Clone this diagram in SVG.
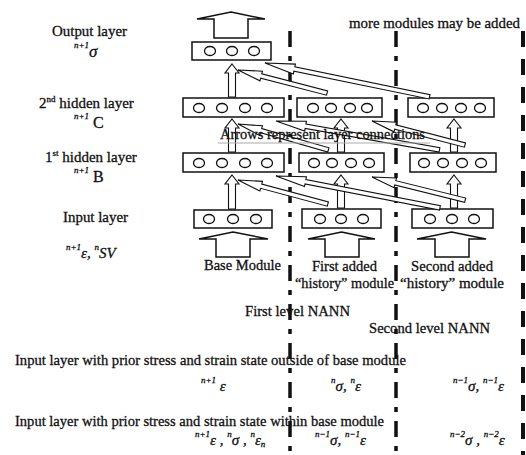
<svg xmlns="http://www.w3.org/2000/svg" width="526" height="455" viewBox="0 0 526 455">
<style>
text{font-family:"Liberation Serif","Times New Roman",serif;fill:#111;stroke:#111;stroke-width:0.3;}
.lbl{font-size:15px;}
.it{font-style:italic;}
.sup{font-size:9px;}
.box{fill:#fff;stroke:#111;stroke-width:1.5;}
.neu{fill:none;stroke:#111;stroke-width:1.3;}
.arr{fill:#fff;stroke:#111;stroke-width:1.1;stroke-linejoin:miter;}
.big{fill:#fff;stroke:#111;stroke-width:1.5;}
.dash1{stroke:#111;stroke-width:3.5;stroke-dasharray:16 9 5 9;fill:none;}
.dash2{stroke:#111;stroke-width:4;stroke-dasharray:16 12;fill:none;}
</style>
<rect width="526" height="455" fill="#fff"/>

<!-- left labels -->
<g id="labels-left">
<text class="lbl" x="52" y="36" textLength="75" lengthAdjust="spacingAndGlyphs">Output layer</text>
<text x="74" y="57"><tspan class="sup it" dy="-9">n+1</tspan><tspan class="it" font-size="17" dy="9">σ</tspan></text>
<text class="lbl" x="39" y="108">2<tspan font-size="9" dy="-6">nd</tspan><tspan dy="6"> hidden layer</tspan></text>
<text x="74" y="128"><tspan class="sup it" dy="-9">n+1</tspan><tspan font-size="16" dy="9"> C</tspan></text>
<text class="lbl" x="45" y="162">1<tspan font-size="9" dy="-6">st</tspan><tspan dy="6"> hidden layer</tspan></text>
<text x="74" y="182"><tspan class="sup it" dy="-9">n+1</tspan><tspan font-size="16" dy="9"> B</tspan></text>
<text class="lbl" x="63" y="222" textLength="65" lengthAdjust="spacingAndGlyphs">Input layer</text>
<text x="66" y="258" class="it"><tspan class="sup" dy="-8">n+1</tspan><tspan font-size="15" dy="8">ε, </tspan><tspan class="sup" dy="-8">n</tspan><tspan font-size="15" dy="8">SV</tspan></text>
</g>

<text class="lbl" x="349" y="28" textLength="171" lengthAdjust="spacingAndGlyphs">more modules may be added</text>

<!-- dashed separators -->
<g id="separators">
<line class="dash1" x1="290" y1="31" x2="290" y2="455"/>
<line class="dash1" x1="396" y1="31" x2="396" y2="455"/>
<line class="dash2" x1="523" y1="31" x2="523" y2="455"/>
</g>

<!-- base module -->
<g id="base-output">
<rect class="box" x="192" y="42" width="79" height="18"/>
<ellipse class="neu" cx="210" cy="51" rx="5.5" ry="4.5"/>
<ellipse class="neu" cx="232" cy="51" rx="5.5" ry="4.5"/>
<ellipse class="neu" cx="254" cy="51" rx="5.5" ry="4.5"/>
</g>
<g id="base-hidden2">
<rect class="box" x="183" y="98" width="101" height="19"/>
<ellipse class="neu" cx="199" cy="108" rx="5.5" ry="4.5"/>
<ellipse class="neu" cx="222" cy="108" rx="5.5" ry="4.5"/>
<ellipse class="neu" cx="245" cy="108" rx="5.5" ry="4.5"/>
<ellipse class="neu" cx="267" cy="108" rx="5.5" ry="4.5"/>
</g>
<g id="base-hidden1">
<rect class="box" x="183" y="153" width="101" height="19"/>
<ellipse class="neu" cx="199" cy="163" rx="5.5" ry="4.5"/>
<ellipse class="neu" cx="222" cy="163" rx="5.5" ry="4.5"/>
<ellipse class="neu" cx="245" cy="163" rx="5.5" ry="4.5"/>
<ellipse class="neu" cx="267" cy="163" rx="5.5" ry="4.5"/>
</g>
<g id="base-input">
<rect class="box" x="194" y="210" width="78" height="18"/>
<ellipse class="neu" cx="209" cy="219" rx="5.5" ry="4.5"/>
<ellipse class="neu" cx="233" cy="219" rx="5.5" ry="4.5"/>
<ellipse class="neu" cx="256" cy="219" rx="5.5" ry="4.5"/>
</g>

<!-- first added module -->
<g id="m1-hidden2">
<rect class="box" x="297" y="98" width="85" height="19"/>
<ellipse class="neu" cx="313" cy="108" rx="5.5" ry="4.5"/>
<ellipse class="neu" cx="331" cy="108" rx="5.5" ry="4.5"/>
<ellipse class="neu" cx="350" cy="108" rx="5.5" ry="4.5"/>
<ellipse class="neu" cx="367" cy="108" rx="5.5" ry="4.5"/>
</g>
<g id="m1-hidden1">
<rect class="box" x="299" y="153" width="85" height="19"/>
<ellipse class="neu" cx="314" cy="163" rx="5.5" ry="4.5"/>
<ellipse class="neu" cx="332" cy="163" rx="5.5" ry="4.5"/>
<ellipse class="neu" cx="351" cy="163" rx="5.5" ry="4.5"/>
<ellipse class="neu" cx="369" cy="163" rx="5.5" ry="4.5"/>
</g>
<g id="m1-input">
<rect class="box" x="302" y="209" width="79" height="19"/>
<ellipse class="neu" cx="320" cy="219" rx="5.5" ry="4.5"/>
<ellipse class="neu" cx="341" cy="219" rx="5.5" ry="4.5"/>
<ellipse class="neu" cx="363" cy="219" rx="5.5" ry="4.5"/>
</g>

<!-- second added module -->
<g id="m2-hidden2">
<rect class="box" x="408" y="98" width="86" height="19"/>
<ellipse class="neu" cx="423" cy="108" rx="5.5" ry="4.5"/>
<ellipse class="neu" cx="442" cy="108" rx="5.5" ry="4.5"/>
<ellipse class="neu" cx="461" cy="108" rx="5.5" ry="4.5"/>
<ellipse class="neu" cx="480" cy="108" rx="5.5" ry="4.5"/>
</g>
<g id="m2-hidden1">
<rect class="box" x="410" y="153" width="86" height="19"/>
<ellipse class="neu" cx="424" cy="163" rx="5.5" ry="4.5"/>
<ellipse class="neu" cx="443" cy="163" rx="5.5" ry="4.5"/>
<ellipse class="neu" cx="462" cy="163" rx="5.5" ry="4.5"/>
<ellipse class="neu" cx="481" cy="163" rx="5.5" ry="4.5"/>
</g>
<g id="m2-input">
<rect class="box" x="412" y="209" width="81" height="19"/>
<ellipse class="neu" cx="430" cy="219" rx="5.5" ry="4.5"/>
<ellipse class="neu" cx="452" cy="219" rx="5.5" ry="4.5"/>
<ellipse class="neu" cx="474" cy="219" rx="5.5" ry="4.5"/>
</g>

<!-- connectors -->
<g id="connectors">
<path class="big" d="M231,12 L265,19 L248,19 L248,38 L214,38 L214,19 L197,19 Z"/>
<path class="big" d="M233,232 L268,239 L250,239 L250,257 L216,257 L216,239 L199,239 Z"/>
<path class="big" d="M341.5,232 L375,239 L359,239 L359,257 L325,257 L325,239 L308,239 Z"/>
<path class="big" d="M451.5,232 L486,239 L469,239 L469,257 L435,257 L435,239 L417,239 Z"/>
<path class="arr" d="M232,64 L239,73 L235.5,73 L235.5,97 L228.5,97 L228.5,73 L225,73 Z"/>
<path class="arr" d="M232,119 L239,128 L235.5,128 L235.5,152 L228.5,152 L228.5,128 L225,128 Z"/>
<path class="arr" d="M232,175 L239,184 L235.5,184 L235.5,209 L228.5,209 L228.5,184 L225,184 Z"/>
<path class="arr" d="M341,119 L348,128 L344.5,128 L344.5,152 L337.5,152 L337.5,128 L334,128 Z"/>
<path class="arr" d="M341,175 L348,184 L344.5,184 L344.5,208 L337.5,208 L337.5,184 L334,184 Z"/>
<path class="arr" d="M454,119 L461,128 L457.5,128 L457.5,152 L450.5,152 L450.5,128 L447,128 Z"/>
<path class="arr" d="M454,175 L461,184 L457.5,184 L457.5,208 L450.5,208 L450.5,184 L447,184 Z"/>
<polygon class="arr" transform="translate(238,70) rotate(14.5)" points="0,0 24,-5 24,-2.2 92,-2.2 92,2.2 24,2.2 24,5"/>
<polygon class="arr" transform="translate(265,63) rotate(11.6)" points="0,0 30,-5 30,-2.2 168,-2.2 168,2.2 30,2.2 30,5"/>
<polygon class="arr" transform="translate(238,124) rotate(16)" points="0,0 24,-5 24,-2.2 94,-2.2 94,2.2 24,2.2 24,5"/>
<polygon class="arr" transform="translate(276,121) rotate(10)" points="0,0 30,-5 30,-2.2 166,-2.2 166,2.2 30,2.2 30,5"/>
<polygon class="arr" transform="translate(372,121) rotate(14.5)" points="0,0 24,-5 24,-2.2 96,-2.2 96,2.2 24,2.2 24,5"/>
<polygon class="arr" transform="translate(238,180) rotate(15)" points="0,0 24,-5 24,-2.2 93,-2.2 93,2.2 24,2.2 24,5"/>
<polygon class="arr" transform="translate(276,176) rotate(11)" points="0,0 30,-5 30,-2.2 167,-2.2 167,2.2 30,2.2 30,5"/>
<polygon class="arr" transform="translate(372,177) rotate(14)" points="0,0 24,-5 24,-2.2 96,-2.2 96,2.2 24,2.2 24,5"/>
</g>

<line x1="218" y1="143" x2="430" y2="143" stroke="#aaa" stroke-width="1"/>
<text class="lbl" x="220" y="139" textLength="205" lengthAdjust="spacingAndGlyphs">Arrows represent layer connections</text>

<!-- module labels -->
<text class="lbl" x="204" y="270" textLength="77" lengthAdjust="spacingAndGlyphs">Base Module</text>
<text class="lbl" x="312" y="271" textLength="65" lengthAdjust="spacingAndGlyphs">First added</text>
<text class="lbl" x="295" y="288" textLength="99" lengthAdjust="spacingAndGlyphs">“history” module</text>
<text class="lbl" x="411" y="271" textLength="82" lengthAdjust="spacingAndGlyphs">Second added</text>
<text class="lbl" x="400" y="288" textLength="104" lengthAdjust="spacingAndGlyphs">“history” module</text>
<text class="lbl" x="245" y="316" textLength="105" lengthAdjust="spacingAndGlyphs">First level NANN</text>
<text class="lbl" x="369" y="333" textLength="121" lengthAdjust="spacingAndGlyphs">Second level NANN</text>

<text class="lbl" x="15" y="365" textLength="391" lengthAdjust="spacingAndGlyphs">Input layer with prior stress and strain state outside of base module</text>
<text class="it" x="201" y="391"><tspan class="sup" dy="-8">n+1</tspan><tspan font-size="15" dy="8"> ε</tspan></text>
<text class="it" x="331" y="391"><tspan class="sup" dy="-8">n</tspan><tspan font-size="15" dy="8">σ, </tspan><tspan class="sup" dy="-8">n</tspan><tspan font-size="15" dy="8">ε</tspan></text>
<text class="it" x="453" y="391"><tspan class="sup" dy="-8">n−1</tspan><tspan font-size="15" dy="8">σ, </tspan><tspan class="sup" dy="-8">n−1</tspan><tspan font-size="15" dy="8">ε</tspan></text>

<text class="lbl" x="15" y="426" textLength="369" lengthAdjust="spacingAndGlyphs">Input layer with prior stress and strain state within base module</text>
<text class="it" x="195" y="445"><tspan class="sup" dy="-8">n+1</tspan><tspan font-size="15" dy="8">ε , </tspan><tspan class="sup" dy="-8">n</tspan><tspan font-size="15" dy="8">σ , </tspan><tspan class="sup" dy="-8">n</tspan><tspan font-size="15" dy="8">ε</tspan><tspan class="sup" dy="2">n</tspan></text>
<text class="it" x="315" y="445"><tspan class="sup" dy="-8">n−1</tspan><tspan font-size="15" dy="8">σ, </tspan><tspan class="sup" dy="-8">n−1</tspan><tspan font-size="15" dy="8">ε</tspan></text>
<text class="it" x="450" y="445"><tspan class="sup" dy="-8">n−2</tspan><tspan font-size="15" dy="8">σ , </tspan><tspan class="sup" dy="-8">n−2</tspan><tspan font-size="15" dy="8">ε</tspan></text>
</svg>
